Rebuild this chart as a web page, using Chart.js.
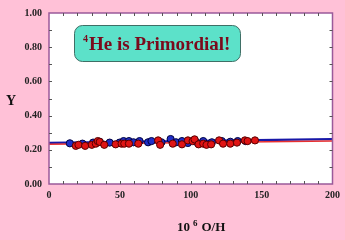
<!DOCTYPE html>
<html>
<head>
<meta charset="utf-8">
<script src="https://cdn.jsdelivr.net/npm/chart.js@4"></script>
<style>
html,body{margin:0;padding:0;background:#FFC1D7;}
#wrap{width:345px;height:240px;position:relative;}
</style>
</head>
<body>
<div id="wrap"><canvas id="c" width="345" height="240"></canvas></div>
<script>
// Data
const blueX = [14.7, 23.6, 31.1, 35.8, 42.8, 49.8, 52.6, 56.4, 59.6, 63.9, 69.9, 72.3, 79.3, 85.8, 89.6, 93.8, 98.0, 103.6, 108.8, 114.9, 121.9, 127.9, 133.1, 138.7];
const blueY = [0.238, 0.236, 0.242, 0.247, 0.242, 0.242, 0.251, 0.251, 0.244, 0.251, 0.244, 0.251, 0.244, 0.263, 0.244, 0.251, 0.240, 0.247, 0.251, 0.244, 0.251, 0.247, 0.251, 0.251];
const redX = [18.9, 20.8, 25.5, 30.2, 33.0, 34.4, 35.8, 39.0, 47.0, 51.2, 53.1, 56.4, 63.0, 77.0, 78.4, 87.3, 93.8, 98.0, 101.3, 102.7, 105.5, 108.8, 111.1, 114.4, 120.0, 122.8, 127.9, 132.6, 138.2, 140.1, 145.3];
const redY = [0.223, 0.229, 0.223, 0.229, 0.236, 0.251, 0.246, 0.229, 0.232, 0.236, 0.236, 0.236, 0.236, 0.255, 0.229, 0.236, 0.232, 0.255, 0.251, 0.261, 0.232, 0.236, 0.229, 0.232, 0.255, 0.236, 0.236, 0.242, 0.255, 0.251, 0.255];
const fitX = [0, 200];
const blueFitY = [0.240, 0.262];
const redFitY = [0.232, 0.252];
const yTicks = [0, 0.2, 0.4, 0.6, 0.8, 1.0];
const xTicks = [0, 50, 100, 150, 200];

const pts = (xs, ys) => xs.map((x, i) => ({x: x, y: ys[i]}));
const SERIF = "'Liberation Serif','Times New Roman',serif";

const decor = {
  id: 'decor',
  beforeDraw(chart) {
    const {ctx, chartArea: a} = chart;
    ctx.save();
    ctx.fillStyle = '#ffffff';
    ctx.fillRect(a.left, a.top, a.right - a.left, a.bottom - a.top);
    ctx.restore();
  },
  afterDraw(chart) {
    const {ctx, chartArea: a, scales} = chart;
    const xs = scales.x, ys = scales.y;
    ctx.save();
    // frame
    ctx.strokeStyle = '#9a5a9a';
    ctx.lineWidth = 1.5;
    ctx.strokeRect(a.left, a.top, a.right - a.left, a.bottom - a.top);
    // inward minor/major ticks
    ctx.strokeStyle = '#555';
    ctx.lineWidth = 1;
    ctx.beginPath();
    for (let v = 1; v < 10; v++) {
      const py = Math.round(ys.getPixelForValue(v / 10)) + 0.5;
      ctx.moveTo(a.left, py); ctx.lineTo(a.left + 3, py);
      ctx.moveTo(a.right, py); ctx.lineTo(a.right - 3, py);
    }
    for (let v = 10; v < 200; v += 10) {
      const px = Math.round(xs.getPixelForValue(v)) + 0.5;
      ctx.moveTo(px, a.bottom); ctx.lineTo(px, a.bottom - 3);
      ctx.moveTo(px, a.top); ctx.lineTo(px, a.top + 3);
    }
    ctx.stroke();
    // axis titles
    ctx.fillStyle = '#111';
    ctx.textBaseline = 'alphabetic';
    ctx.font = "bold 14px " + SERIF;
    ctx.textAlign = 'center';
    ctx.fillText('Y', 11, 105);
    ctx.textAlign = 'left';
    ctx.font = "bold 13px " + SERIF;
    let x0 = 177;
    ctx.fillText('10', x0, 231);
    let w = ctx.measureText('10').width;
    ctx.font = "bold 9px " + SERIF;
    ctx.fillText('6', x0 + w + 3, 226);
    let w2 = ctx.measureText('6').width;
    ctx.font = "bold 13px " + SERIF;
    ctx.fillText('O/H', x0 + w + 3 + w2 + 4, 231);
    // callout box
    ctx.beginPath();
    ctx.roundRect(74.5, 25.5, 166, 36, 8);
    ctx.fillStyle = '#5CE1C9';
    ctx.fill();
    ctx.strokeStyle = '#3f6f66';
    ctx.lineWidth = 1;
    ctx.stroke();
    ctx.fillStyle = '#7a0a1c';
    ctx.font = "bold 10px " + SERIF;
    ctx.fillText('4', 83, 42);
    ctx.font = "bold 19px " + SERIF;
    ctx.fillText('He is Primordial!', 89, 50);
    ctx.restore();
  }
};

new Chart(document.getElementById('c'), {
  type: 'scatter',
  data: {
    datasets: [
      {type: 'scatter', data: pts(redX, redY), backgroundColor: '#e01414', borderColor: '#5a0000', borderWidth: 1, pointRadius: 3.6, order: 1},
      {type: 'scatter', data: pts(blueX, blueY), backgroundColor: '#1f2fc8', borderColor: '#000040', borderWidth: 1, pointRadius: 3.6, order: 2},
      {type: 'line', data: pts(fitX, redFitY), borderColor: '#e83030', borderWidth: 1.5, pointRadius: 0, fill: false, order: 3},
      {type: 'line', data: pts(fitX, blueFitY), borderColor: '#1818a8', borderWidth: 2.2, pointRadius: 0, fill: false, order: 4}
    ]
  },
  plugins: [decor],
  options: {
    responsive: false,
    animation: false,
    devicePixelRatio: 1,
    layout: {padding: {top: 8, right: 11, left: 0, bottom: 0}},
    plugins: {legend: {display: false}, tooltip: {enabled: false}},
    scales: {
      x: {
        type: 'linear', min: 0, max: 200,
        afterFit(s) { s.height = 56; },
        afterBuildTicks(s) { s.ticks = xTicks.map(v => ({value: v})); },
        grid: {display: false, drawTicks: false},
        border: {display: false},
        ticks: {padding: 5, color: '#222', font: {family: SERIF, size: 10, weight: 'bold'}, maxRotation: 0}
      },
      y: {
        type: 'linear', min: 0, max: 1,
        afterFit(s) { s.width = 49; },
        afterBuildTicks(s) { s.ticks = yTicks.map(v => ({value: v})); },
        grid: {display: false, drawTicks: false},
        border: {display: false},
        ticks: {padding: 7, color: '#222', font: {family: SERIF, size: 10, weight: 'bold'}, callback: v => Number(v).toFixed(2)}
      }
    }
  }
});
</script>
</body>
</html>
